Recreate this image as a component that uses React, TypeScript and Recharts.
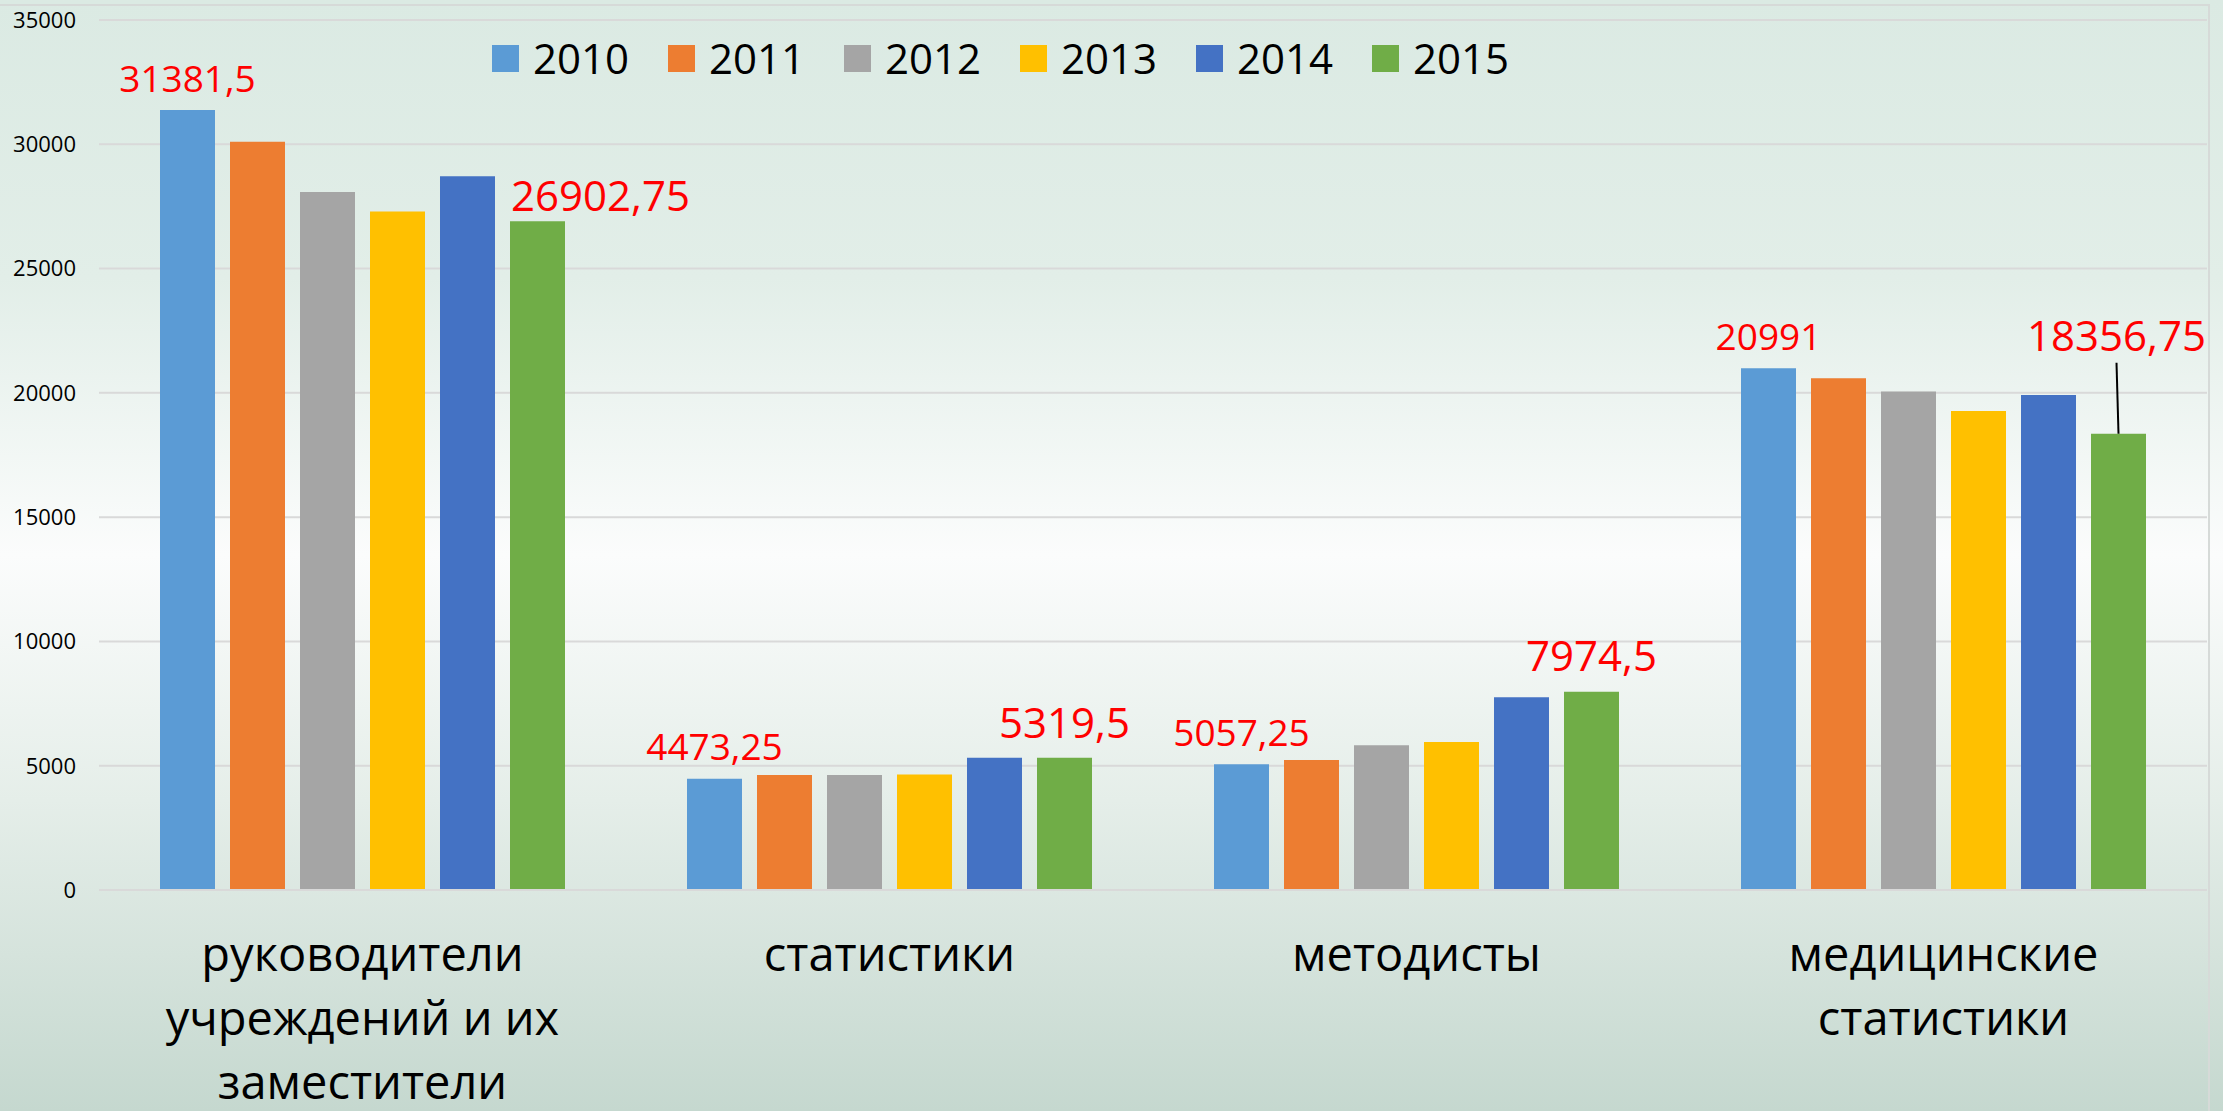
import { BarChart, Bar, XAxis, YAxis, CartesianGrid, Legend, LabelList } from 'recharts';

// categories and tick lines
const categories = [
  'руководители учреждений и их заместители',
  'статистики',
  'методисты',
  'медицинские статистики',
];
const categoryLines = [
  ['руководители', 'учреждений и их', 'заместители'],
  ['статистики'],
  ['методисты'],
  ['медицинские', 'статистики'],
];

const years = ['2010', '2011', '2012', '2013', '2014', '2015'];
const values2010 = [31381.5, 4473.25, 5057.25, 20991];
const values2011 = [30100, 4630, 5230, 20590];
const values2012 = [28080, 4630, 5820, 20050];
const values2013 = [27300, 4650, 5950, 19270];
const values2014 = [28710, 5320, 7750, 19910];
const values2015 = [26902.75, 5319.5, 7974.5, 18356.75];
const yTicks = [0, 5000, 10000, 15000, 20000, 25000, 30000, 35000];

const seriesValues = [values2010, values2011, values2012, values2013, values2014, values2015];
const colors = ['#5B9BD5', '#ED7D31', '#A5A5A5', '#FFC000', '#4472C4', '#70AD47'];

const data = categories.map((name, i) => {
  const row: Record<string, any> = { name, idx: i };
  years.forEach((y, s) => {
    row[y] = seriesValues[s][i];
  });
  return row;
});

const FONT = '"Open Sans", "Liberation Sans", sans-serif';

// label placement tweaks (per category)
const tweaks2010 = [
  { dx: 0, gap: 18 },
  { dx: 0, gap: 19 },
  { dx: 0, gap: 18 },
  { dx: 0, gap: 18 },
];
const tweaks2015 = [
  { dx: 63, gap: 10 },
  { dx: 0, gap: 20 },
  { dx: 0, gap: 21 },
  { dx: -2, gap: 83, leader: true },
];

function makeLabel(tweaks: any[], fontSize: number) {
  return (props: any) => {
    const { x, y, width, value, index } = props;
    const t = tweaks[index] || { dx: 0, gap: 18 };
    const barCx = Number(x) + Number(width) / 2;
    const cx = barCx + t.dx;
    const base = Number(y) - t.gap;
    const text = String(value).replace('.', ',');
    return (
      <g>
        {t.leader && (
          <line x1={cx} y1={base + 12} x2={barCx} y2={Number(y)} stroke="#000" strokeWidth={2} />
        )}
        <text x={cx} y={base} textAnchor="middle" fontSize={fontSize} fill="#FF0000" fontFamily={FONT}>
          {text}
        </text>
      </g>
    );
  };
}

const CategoryTick = (props: any) => {
  const { x, y, payload } = props;
  const lines = categoryLines[payload.index] || [payload.value];
  return (
    <g>
      {lines.map((l: string, i: number) => (
        <text
          key={i}
          x={x}
          y={y + 75 + i * 64}
          textAnchor="middle"
          fontSize={47}
          fill="#000"
          fontFamily={FONT}
        >
          {l}
        </text>
      ))}
    </g>
  );
};

const LegendContent = () => (
  <div style={{ display: 'flex', alignItems: 'center', height: 36, fontFamily: FONT }}>
    {years.map((y, i) => (
      <div key={y} style={{ display: 'flex', alignItems: 'center', width: 176 }}>
        <div style={{ width: 27, height: 27, background: colors[i], marginRight: 14 }} />
        <span style={{ fontSize: 42, lineHeight: '36px', color: '#000' }}>{y}</span>
      </div>
    ))}
  </div>
);

export default function App() {
  return (
    <div
      style={{
        position: 'absolute',
        left: 0,
        top: 0,
        width: 2223,
        height: 1111,
        overflow: 'hidden',
        background:
          'linear-gradient(to bottom, #dbeae3 0%, #e2eee8 25%, #fbfcfc 50%, #e5eee9 72%, #c5d8cf 100%)',
      }}
    >
      <div
        style={{
          position: 'absolute',
          left: -4,
          top: 4,
          width: 2212,
          height: 1200,
          borderTop: '2px solid #d6dad8',
          borderRight: '2px solid #d6dad8',
        }}
      />
      <BarChart
        width={2223}
        height={1111}
        data={data}
        margin={{ top: 20, right: 16, bottom: 0, left: 0 }}
        barSize={55}
        barGap={15}
      >
        <CartesianGrid vertical={false} stroke="#d9d9d9" strokeWidth={2} />
        <XAxis
          dataKey="name"
          axisLine={{ stroke: '#d9d9d9', strokeWidth: 2 }}
          tickLine={false}
          tickMargin={0}
          height={221}
          interval={0}
          tick={<CategoryTick />}
        />
        <YAxis
          width={99}
          domain={[0, 35000]}
          ticks={yTicks}
          axisLine={false}
          tickLine={false}
          tickMargin={17}
          tick={{ fontSize: 22, fill: '#000', fontFamily: FONT }}
        />
        <Legend
          verticalAlign="middle"
          align="center"
          content={<LegendContent />}
          wrapperStyle={{ left: 492, top: 40, width: 1100, height: 36 }}
        />
        {years.map((y, i) => (
          <Bar key={y} dataKey={y} fill={colors[i]} isAnimationActive={false}>
            {i === 0 && <LabelList dataKey={y} content={makeLabel(tweaks2010, 37)} />}
            {i === 5 && <LabelList dataKey={y} content={makeLabel(tweaks2015, 42)} />}
          </Bar>
        ))}
      </BarChart>
    </div>
  );
}
